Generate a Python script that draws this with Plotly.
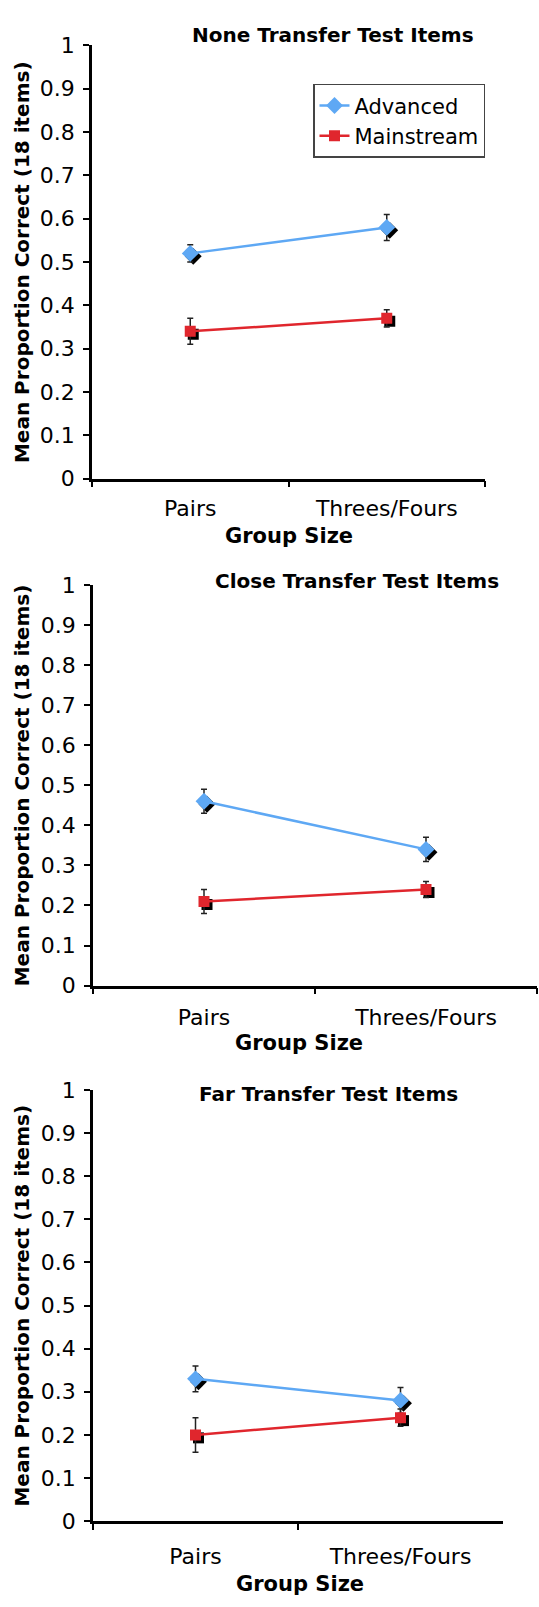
import plotly.graph_objects as go

W, H = 539, 1607

categories = ["Pairs", "Threes/Fours"]
series_names = ["Advanced", "Mainstream"]
panel_titles = ["None Transfer Test Items", "Close Transfer Test Items", "Far Transfer Test Items"]

none_advanced = [0.52, 0.58]
none_advanced_err = [0.02, 0.03]
none_mainstream = [0.34, 0.37]
none_mainstream_err = [0.03, 0.02]

close_advanced = [0.46, 0.34]
close_advanced_err = [0.03, 0.03]
close_mainstream = [0.21, 0.24]
close_mainstream_err = [0.03, 0.02]

far_advanced = [0.33, 0.28]
far_advanced_err = [0.03, 0.03]
far_mainstream = [0.20, 0.24]
far_mainstream_err = [0.04, 0.02]

y_ticks = [0, 0.1, 0.2, 0.3, 0.4, 0.5, 0.6, 0.7, 0.8, 0.9, 1]
y_title = "Mean Proportion Correct (18 items)"
x_title = "Group Size"

panels = [
    (none_advanced, none_advanced_err, none_mainstream, none_mainstream_err),
    (close_advanced, close_advanced_err, close_mainstream, close_mainstream_err),
    (far_advanced, far_advanced_err, far_mainstream, far_mainstream_err),
]

# layout in pixels: (x_left, x_right, y_top, y_bottom)
boxes = [(92, 485, 34, 474), (93, 537, 582, 989), (93, 503, 1095, 1533)]
title_pos = [(333, 23), (357, 578), (328, 1099)]
xtitle_pos = [(289, 532), (299, 1047), (300, 1597)]
standoffs = [8, 10, 14]

BLUE = "#5ea8f4"
RED = "#e0262d"
FONT = "DejaVu Sans"

fig = go.Figure()
layout = dict(
    width=W, height=H,
    margin=dict(l=0, r=0, t=0, b=0),
    paper_bgcolor="white", plot_bgcolor="rgba(0,0,0,0)",
    font=dict(family=FONT, size=20, color="black"),
    showlegend=True,
)

def px_dom_x(a, b):
    return [a / W, b / W]

def px_dom_y(top, bot):
    return [1 - bot / H, 1 - top / H]

annotations = []
sh = 3  # shadow offset px
for i, (adv, adv_e, main, main_e) in enumerate(panels):
    xl, xr, yt, yb = boxes[i]
    si, mi = i + 1, i + 4
    sx = "x" if si == 1 else f"x{si}"
    sy = "y" if si == 1 else f"y{si}"
    mx, my = f"x{mi}", f"y{mi}"
    sxk = "xaxis" if si == 1 else f"xaxis{si}"
    syk = "yaxis" if si == 1 else f"yaxis{si}"
    s_xr = min(xr + sh, W)
    s_range_end = -0.5 + 2.0 * (s_xr - (xl + sh)) / (xr - xl)
    s_yb = min(yb + sh, H)
    s_range_low = 1.0 - (s_yb - (yt + sh)) / (yb - yt)
    layout[sxk] = dict(domain=px_dom_x(xl + sh, s_xr), range=[-0.5, s_range_end], visible=False,
                       type="category", categoryarray=categories, anchor=sy)
    layout[syk] = dict(domain=px_dom_y(yt + sh, s_yb), range=[s_range_low, 1], visible=False, anchor=sx)
    layout[f"xaxis{mi}"] = dict(
        domain=px_dom_x(xl, xr), range=[-0.5, 1.5], type="category", categoryarray=categories,
        anchor=my, showline=True, linecolor="black", linewidth=2.5, showgrid=False, zeroline=False,
        ticks="outside", tickson="boundaries", ticklen=6, tickwidth=2, tickcolor="black",
        tickfont=dict(size=22, family=FONT), ticklabelstandoff=standoffs[i],
    )
    layout[f"yaxis{mi}"] = dict(
        domain=px_dom_y(yt, yb), range=[0, 1], anchor=mx, tickvals=y_ticks,
        showline=True, linecolor="black", linewidth=2.5, showgrid=False, zeroline=False,
        ticks="outside", ticklen=6, tickwidth=2, tickcolor="black",
        tickfont=dict(size=22, family=FONT), ticklabelstandoff=4,
    )
    for vals, sym, size in ((adv, "diamond", 13), (main, "square", 11)):
        fig.add_trace(go.Scatter(x=categories, y=vals, mode="markers", xaxis=sx, yaxis=sy,
                                 marker=dict(symbol=sym, size=size, color="black"),
                                 showlegend=False, hoverinfo="skip"))
    for name, vals, errs, col, sym, size in ((series_names[0], adv, adv_e, BLUE, "diamond", 13),
                                             (series_names[1], main, main_e, RED, "square", 11)):
        fig.add_trace(go.Scatter(
            x=categories, y=vals, mode="lines+markers", name=name, xaxis=mx, yaxis=my,
            line=dict(color=col, width=2.5),
            marker=dict(symbol=sym, size=size, color=col),
            error_y=dict(type="data", array=errs, visible=True, color="#222222", thickness=1.5, width=3),
            showlegend=(i == 0), legendgroup=name,
        ))
    tx, ty = title_pos[i]
    annotations.append(dict(text=f"<b>{panel_titles[i]}</b>", x=tx / W, y=1 - ty / H, xref="paper", yref="paper",
                            xanchor="center", yanchor="middle", showarrow=False, font=dict(size=20, family=FONT)))
    gx, gy = xtitle_pos[i]
    annotations.append(dict(text=f"<b>{x_title}</b>", x=gx / W, y=1 - gy / H, xref="paper", yref="paper",
                            xanchor="center", yanchor="middle", showarrow=False, font=dict(size=21, family=FONT)))
    annotations.append(dict(text=f"<b>{y_title}</b>", x=22 / W, y=1 - ((yt + yb) / 2) / H, xref="paper", yref="paper",
                            xanchor="center", yanchor="middle", textangle=-90, showarrow=False,
                            font=dict(size=20, family=FONT)))

layout["annotations"] = annotations
layout["legend"] = dict(x=313 / W, y=1 - 73 / H, xanchor="left", yanchor="top", bgcolor="white",
                        bordercolor="#444444", borderwidth=1.5, font=dict(size=21, family=FONT),
                        itemwidth=30, tracegroupgap=0)
fig.update_layout(**layout)
fig.write_html("out.html", config={"displayModeBar": False},
               post_script="document.body.style.margin='0px';")
